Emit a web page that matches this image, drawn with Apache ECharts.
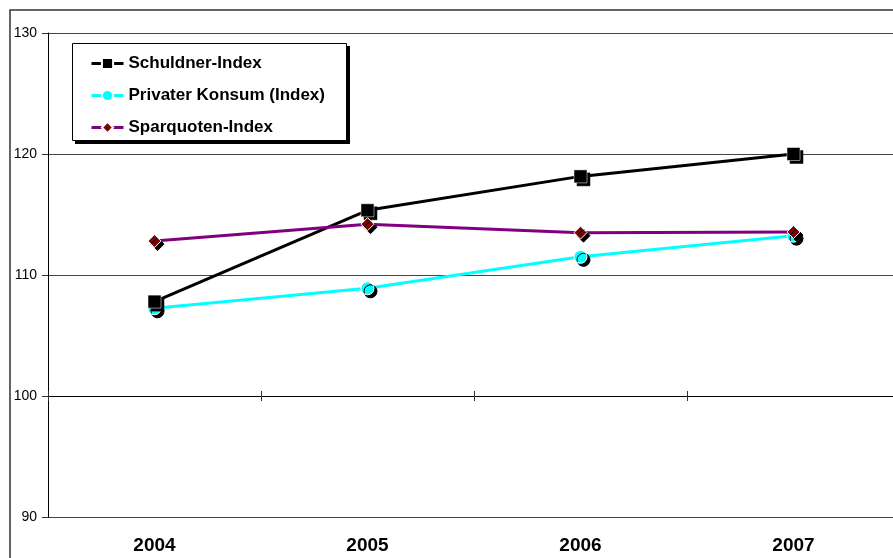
<!DOCTYPE html>
<html>
<head>
<meta charset="utf-8">
<script src="https://cdn.jsdelivr.net/npm/echarts@6/dist/echarts.min.js"></script>
<style>
  html, body { margin: 0; padding: 0; background: #fff; }
  #chart { width: 893px; height: 558px; }
</style>
</head>
<body>
<div id="chart"></div>
<script>
// Years on the category axis
const years = ['2004', '2005', '2006', '2007'];

// Index series
const schuldnerIndex = [107.8, 115.35, 118.15, 120.0];
const privaterKonsum = [107.25, 108.9, 111.5, 113.25];
const sparquotenIndex = [112.8, 114.2, 113.5, 113.55];

// Value axis range
const yMin = 90;
const yMax = 130;
const yStep = 10;

const FONT = '"Liberation Sans", Arial, sans-serif';

const markerShadow = {
  shadowColor: '#000',
  shadowBlur: 0,
  shadowOffsetX: 3,
  shadowOffsetY: 3
};

const chart = echarts.init(document.getElementById('chart'), null, { renderer: 'canvas' });

chart.setOption({
  animation: false,
  backgroundColor: '#fff',
  graphic: [{
    // outer chart frame
    type: 'rect',
    shape: { x: 10, y: 10, width: 900, height: 600 },
    style: { fill: 'none', stroke: '#333', lineWidth: 1.5 },
    silent: true,
    z: 0
  }, {
    // legend box shadow
    type: 'rect',
    shape: { x: 75, y: 46, width: 275, height: 98 },
    style: { fill: '#000' },
    silent: true,
    z: 5
  }, {
    // legend box
    type: 'rect',
    shape: { x: 72.5, y: 43.5, width: 274, height: 97 },
    style: { fill: '#fff', stroke: '#000', lineWidth: 1 },
    silent: true,
    z: 6
  }],
  grid: {
    left: 48, top: 33, width: 852, height: 484,
    containLabel: false,
    outerBoundsMode: 'none'
  },
  legend: {
    orient: 'vertical',
    left: 72,
    top: 43,
    padding: [12, 20, 6, 18],
    itemGap: 15,
    itemWidth: 32,
    itemHeight: 14,
    z: 7,
    lineStyle: { width: 3 },
    textStyle: { fontFamily: FONT, fontSize: 17, fontWeight: 'bold', color: '#000' },
    data: ['Schuldner-Index', 'Privater Konsum (Index)', 'Sparquoten-Index']
  },
  xAxis: [{
    type: 'category',
    data: years,
    position: 'bottom',
    boundaryGap: true,
    axisLine: { show: false },
    axisTick: { show: false },
    axisLabel: { fontFamily: FONT, fontSize: 19, fontWeight: 'bold', color: '#000', margin: 19 }
  }, {
    // axis line drawn across the value 100
    type: 'category',
    data: years,
    position: 'bottom',
    offset: -121,
    boundaryGap: true,
    axisLine: { show: true, lineStyle: { color: '#000', width: 1 } },
    axisTick: { show: true, inside: false, length: 5, lineStyle: { color: '#333' } },
    axisLabel: { show: false }
  }, {
    type: 'category',
    data: years,
    position: 'bottom',
    offset: -121,
    boundaryGap: true,
    axisLine: { show: false },
    axisTick: { show: true, inside: true, length: 5, lineStyle: { color: '#333' } },
    axisLabel: { show: false }
  }],
  yAxis: {
    type: 'value',
    min: yMin,
    max: yMax,
    interval: yStep,
    axisLine: { show: true, lineStyle: { color: '#000', width: 1 } },
    axisTick: { show: true, length: 6, lineStyle: { color: '#333' } },
    axisLabel: { fontFamily: FONT, fontSize: 14, color: '#000', margin: 11 },
    splitLine: { show: true, lineStyle: { color: '#444', width: 1 } }
  },
  series: [{
    name: 'Schuldner-Index',
    type: 'line',
    data: schuldnerIndex,
    symbol: 'rect',
    symbolSize: 13,
    lineStyle: { color: '#000', width: 3 },
    itemStyle: Object.assign({ color: '#000', borderColor: '#fff', borderWidth: 0.5 }, markerShadow),
    z: 3
  }, {
    name: 'Privater Konsum (Index)',
    type: 'line',
    data: privaterKonsum,
    symbol: 'circle',
    symbolSize: 13,
    lineStyle: { color: '#00ffff', width: 3 },
    itemStyle: Object.assign({ color: '#00ffff', borderColor: '#fff', borderWidth: 1 }, markerShadow),
    z: 2
  }, {
    name: 'Sparquoten-Index',
    type: 'line',
    data: sparquotenIndex,
    symbol: 'diamond',
    symbolSize: 13,
    lineStyle: { color: '#800080', width: 3 },
    itemStyle: Object.assign({ color: '#800000', borderColor: '#fff', borderWidth: 1 }, markerShadow),
    z: 4
  }]
});
</script>
</body>
</html>
